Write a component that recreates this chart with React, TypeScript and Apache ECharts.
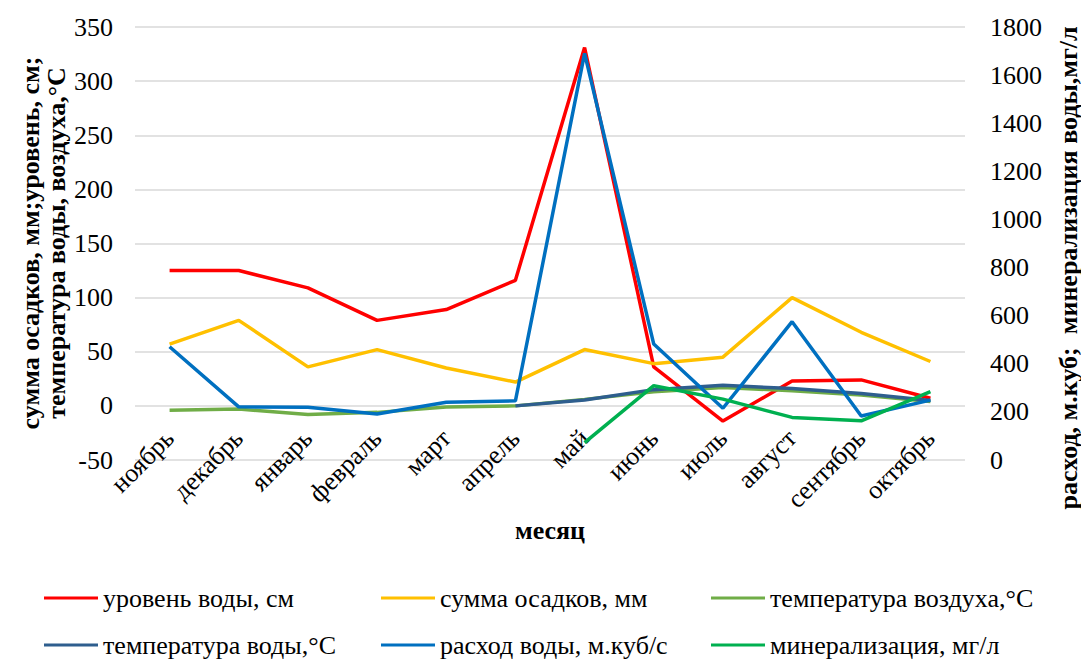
import React, { useEffect, useRef } from "react";
import * as echarts from "echarts";

const months = ["ноябрь", "декабрь", "январь", "февраль", "март", "апрель", "май", "июнь", "июль", "август", "сентябрь", "октябрь"];
const waterLevel = [125, 125, 109, 79, 89, 116, 331, 36, -14, 23, 24, 7];
const precipitation = [57, 79, 36, 52, 35, 22, 52, 39, 45, 100, 68, 41];
const airTemp = [-4, -3, -8, -6, -1, 0, 6, 13, 17, 14, 10, 4];
const waterTemp = [null, null, null, null, null, 0, 5.5, 15, 19, 16, 11.5, 5];
const discharge = [471, 221, 219, 191, 240, 246, 1690, 482, 215, 575, 183, 249];
const mineralization = [null, null, null, null, null, null, 72, 309, 253, 177, 163, 284];

const leftTicks = { min: -50, max: 350, interval: 50 };
const rightTicks = { min: 0, max: 1800, interval: 200 };

const FONT = "Liberation Serif";
const FS = 26;

export default function App() {
  const ref = useRef<HTMLDivElement>(null);
  useEffect(() => {
    if (!ref.current) return;
    const chart = echarts.init(ref.current, null, { renderer: "svg" });
    const seriesDefs = [
      { name: "уровень воды, см", data: waterLevel, color: "#ff0000", y: 0 },
      { name: "сумма осадков, мм", data: precipitation, color: "#ffc000", y: 0 },
      { name: "температура воздуха,°С", data: airTemp, color: "#70ad47", y: 0 },
      { name: "температура воды,°С", data: waterTemp, color: "#2e5e8e", y: 0 },
      { name: "расход воды, м.куб/с", data: discharge, color: "#0070c0", y: 1 },
      { name: "минерализация, мг/л", data: mineralization, color: "#00b050", y: 1 },
    ];
    const legendPos = [
      { left: 44, top: 585 },
      { left: 381, top: 585 },
      { left: 711, top: 585 },
      { left: 44, top: 632 },
      { left: 381, top: 632 },
      { left: 711, top: 632 },
    ];
    chart.setOption({
      animation: false,
      textStyle: { fontFamily: FONT },
      grid: { left: 135, right: 116, top: 27, bottom: 201, containLabel: false },
      legend: seriesDefs.map((s, i) => ({
        data: [s.name],
        left: legendPos[i].left,
        top: legendPos[i].top,
        padding: 0,
        icon: "rect",
        itemWidth: 54,
        itemHeight: 3,
        itemGap: 0,
        textStyle: { fontFamily: FONT, fontSize: FS, color: "#000" },
        selectedMode: false,
      })),
      xAxis: {
        type: "category",
        data: months,
        boundaryGap: true,
        axisLine: { show: false, onZero: false },
        axisTick: { show: false },
        axisLabel: { rotate: 45, margin: -26, fontFamily: FONT, fontSize: FS, color: "#000", interval: 0 },
      },
      yAxis: [
        {
          type: "value",
          ...leftTicks,
          axisLine: { show: false },
          axisTick: { show: false },
          axisLabel: { margin: 22, fontFamily: FONT, fontSize: FS, color: "#000" },
          splitLine: { show: true, lineStyle: { color: "#d9d9d9", width: 1.5 } },
        },
        {
          type: "value",
          ...rightTicks,
          axisLine: { show: false },
          axisTick: { show: false },
          axisLabel: { margin: 25, fontFamily: FONT, fontSize: FS, color: "#000", formatter: (v: number) => String(v) },
          splitLine: { show: false },
        },
      ],
      graphic: [
        {
          type: "text",
          x: 30,
          y: 243,
          rotation: Math.PI / 2,
          style: {
            text: "сумма осадков, мм;уровень, см;",
            fontFamily: FONT,
            fontSize: FS,
            fontWeight: "bold",
            fill: "#000",
            align: "center",
            verticalAlign: "middle",
          },
        },
        {
          type: "text",
          x: 56,
          y: 243,
          rotation: Math.PI / 2,
          style: {
            text: "температура воды, воздуха,°С",
            fontFamily: FONT,
            fontSize: FS,
            fontWeight: "bold",
            fill: "#000",
            align: "center",
            verticalAlign: "middle",
          },
        },
        {
          type: "text",
          x: 1068,
          y: 268,
          rotation: Math.PI / 2,
          style: {
            text: "расход, м.куб;  минерализация воды,мг/л",
            fontFamily: FONT,
            fontSize: FS,
            fontWeight: "bold",
            fill: "#000",
            align: "center",
            verticalAlign: "middle",
          },
        },
        {
          type: "text",
          x: 550,
          y: 530,
          style: {
            text: "месяц",
            fontFamily: FONT,
            fontSize: FS,
            fontWeight: "bold",
            fill: "#000",
            align: "center",
            verticalAlign: "middle",
          },
        },
      ],
      series: seriesDefs.map((s) => ({
        name: s.name,
        type: "line",
        yAxisIndex: s.y,
        data: s.data,
        symbol: "none",
        connectNulls: false,
        color: s.color,
        lineStyle: { color: s.color, width: 3.5 },
      })),
    });
    return () => chart.dispose();
  }, []);
  return <div ref={ref} style={{ width: 1081, height: 661, position: "absolute", left: 0, top: 0 }} />;
}
